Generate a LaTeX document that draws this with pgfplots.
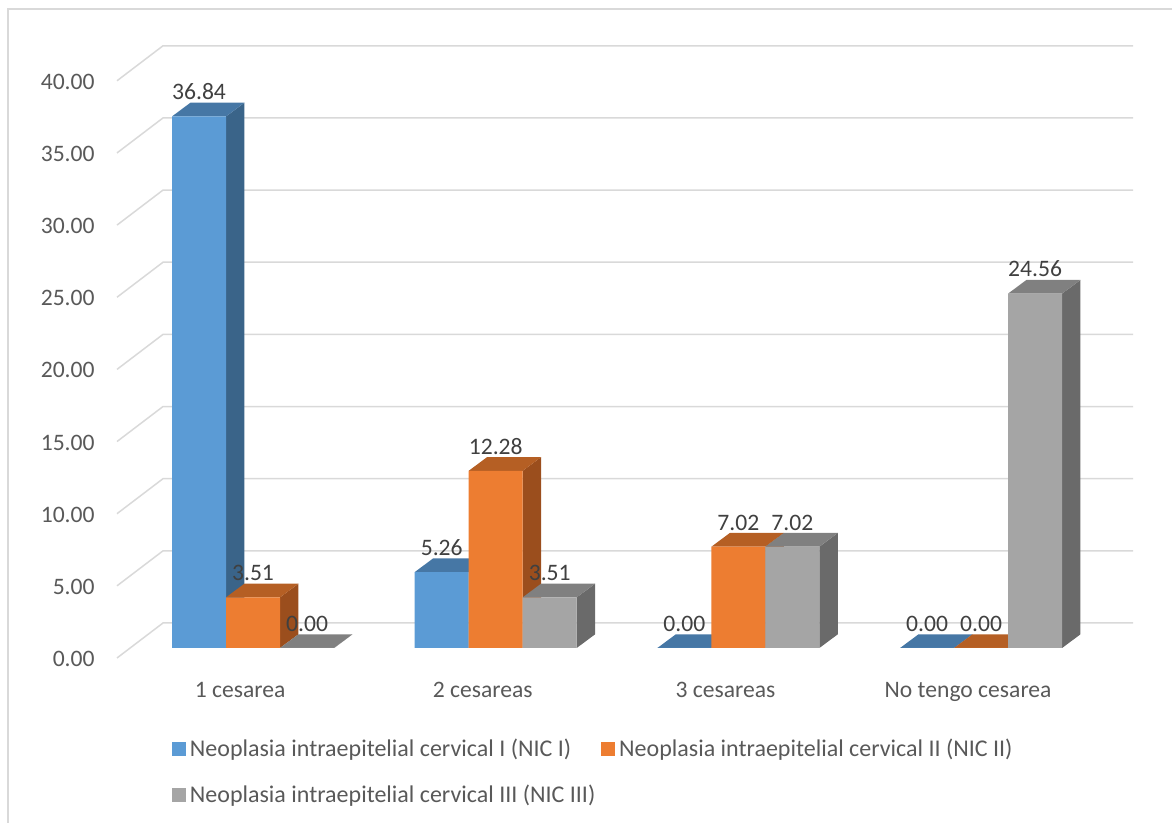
\documentclass[border=0pt]{standalone}
\usepackage{fontspec}
\setmainfont{Carlito}
\usepackage{pgfplots}
\usepackage{pgfplotstable}
\pgfplotsset{compat=1.18}
\definecolor{blueF}{HTML}{5B9BD5}
\definecolor{blueT}{HTML}{4677A5}
\definecolor{blueS}{HTML}{3A6489}
\definecolor{orangeF}{HTML}{ED7D31}
\definecolor{orangeT}{HTML}{B55F24}
\definecolor{orangeS}{HTML}{9B4E1D}
\definecolor{grayF}{HTML}{A5A5A5}
\definecolor{grayT}{HTML}{808080}
\definecolor{grayS}{HTML}{6A6A6A}
\definecolor{gridc}{HTML}{D9D9D9}
\definecolor{txt}{HTML}{595959}
\definecolor{lbl}{HTML}{404040}

\pgfplotstableread{
x A B C
0 36.84 3.51 0.00
1 5.26 12.28 3.51
2 0.00 7.02 7.02
3 0.00 0.00 24.56
}\datatable

% depth of each bar (oblique projection)
\def\dpx{9.2pt}
\def\dpy{6.85pt}
\def\bw{0.2225}

\newcommand\barfaces[5]{% #1 group, #2 shift multiplier, #3 value, #4 top colour, #5 side colour
  \pgfmathsetmacro\xl{#1+(#2)*\bw-\bw/2}%
  \pgfmathsetmacro\xr{#1+(#2)*\bw+\bw/2}%
  \edef\tmp{%
    \noexpand\fill[#5] (axis cs:\xr,0) -- ([shift={(\dpx,\dpy)}]axis cs:\xr,0) -- ([shift={(\dpx,\dpy)}]axis cs:\xr,#3) -- (axis cs:\xr,#3) -- cycle;%
    \noexpand\fill[#4] (axis cs:\xl,#3) -- (axis cs:\xr,#3) -- ([shift={(\dpx,\dpy)}]axis cs:\xr,#3) -- ([shift={(\dpx,\dpy)}]axis cs:\xl,#3) -- cycle;%
  }\tmp}

\newcommand\seriesfaces[4]{% #1 column, #2 shift, #3 top, #4 side
  \pgfplotsforeachungrouped \r in {0,1,2,3}{%
    \pgfplotstablegetelem{\r}{#1}\of{\datatable}%
    \edef\tmpcall{\noexpand\barfaces{\r}{#2}{\pgfplotsretval}{#3}{#4}}%
    \tmpcall}}

\pgfplotsset{
  /pgf/number format/assume math mode=true,
  frontbar/.style={ybar, bar width=\bw, draw=none,
    nodes near coords={\pgfmathprintnumber[fixed,fixed zerofill,precision=2]{\pgfplotspointmeta}},
    every node near coord/.append style={anchor=base, yshift=8.3pt, text=lbl, inner sep=0pt}},
}

\begin{document}
\begin{tikzpicture}[font=\fontsize{11.8pt}{14pt}\selectfont]
\path[use as bounding box] (0,0) rectangle (586pt,411.5pt);
\draw[gridc, line width=0.6pt] (4pt,0pt) -- (4pt,407pt) -- (586pt,407pt);
\begin{axis}[
  at={(65pt,87.5pt)}, anchor=south west,
  scale only axis, width=485pt, height=288.6pt,
  xmin=-0.507, xmax=3.49, ymin=0, ymax=40,
  clip=false,
  axis line style={draw=none},
  major tick length=0pt,
  xtick={0,1,2,3},
  xticklabels={1 cesarea, 2 cesareas, 3 cesareas, No tengo cesarea},
  xticklabel style={anchor=base, xshift=-6.5pt, yshift=-25pt, text=txt, inner sep=0pt},
  ytick={0,5,10,15,20,25,30,35,40},
  scaled y ticks=false,
  yticklabel style={anchor=east, xshift=-17.5pt, yshift=-5.5pt, text=txt, inner sep=0pt,
    /pgf/number format/fixed, /pgf/number format/fixed zerofill, /pgf/number format/precision=2},
  legend columns=2,
  legend cell align=left,
  legend style={at={(axis description cs:0.0432,-0.150)}, anchor=north west, draw=none, fill=none,
    inner sep=0pt, outer sep=0pt, text=txt, row sep=8.7pt,
    font=\fontsize{12pt}{14pt}\selectfont,
    /tikz/every even column/.append style={column sep=13pt}},
  legend image code/.code={\fill[#1, draw=none] (0pt,-3.5pt) rectangle (7pt,3.5pt);},
]
\pgfplotsinvokeforeach{0,5,10,15,20,25,30,35,40}{
  \draw[gridc, line width=0.75pt] ([shift={(-6.5pt,-5pt)}]axis cs:-0.507,#1) -- ([shift={(16.5pt,12.5pt)}]axis cs:-0.507,#1) -- ([shift={(16.5pt,12.5pt)}]axis cs:3.49,#1);
}
\seriesfaces{A}{-1}{blueT}{blueS}
\addplot[frontbar, bar shift=-\bw, fill=blueF, every node near coord/.append style={xshift=-27pt}] table[x=x, y=A]{\datatable};
\addlegendentry{Neoplasia intraepitelial cervical I (NIC I)}
\seriesfaces{B}{0}{orangeT}{orangeS}
\addplot[frontbar, bar shift=0, fill=orangeF] table[x=x, y=B]{\datatable};
\addlegendentry{Neoplasia intraepitelial cervical II (NIC II)}
\seriesfaces{C}{1}{grayT}{grayS}
\addplot[frontbar, bar shift=\bw, fill=grayF, every node near coord/.append style={xshift=27pt}] table[x=x, y=C]{\datatable};
\addlegendentry{\rlap{Neoplasia intraepitelial cervical III (NIC III)}}
\end{axis}
\end{tikzpicture}
\end{document}
